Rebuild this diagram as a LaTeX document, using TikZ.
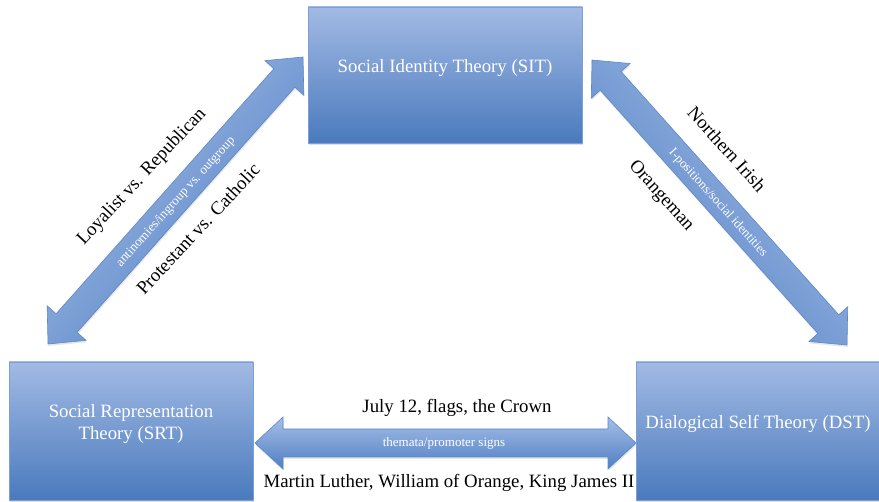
\documentclass[tikz,border=0pt]{standalone}
\usepackage{fontspec}
\setmainfont{Liberation Serif}
\usetikzlibrary{calc, shadows}

\begin{document}
\begin{tikzpicture}[
    x=1pt, y=-1pt,
    every node/.style={font=\fontsize{18.8}{22}\selectfont},
]

% ---------------------------------------------------------------- colours
\definecolor{boxtop}{HTML}{A2BAE4}      % the theory boxes, light end
\definecolor{boxbottom}{HTML}{4A7ABD}   % the theory boxes, dark end
\definecolor{boxline}{HTML}{7D9ED6}
\definecolor{arrowlight}{HTML}{A6BEE7}
\definecolor{arrowdark}{HTML}{4F7FC3}
\definecolor{arrowline}{HTML}{5B87C9}

% ---------------------------------------------------------------- styles
\tikzset{
    theory/.style={rectangle, draw=boxline, line width=0.8pt,
                   top color=boxtop, bottom color=boxbottom, text=white,
                   align=center, text depth=18pt,
                   drop shadow={shadow xshift=0.5pt, shadow yshift=-2pt,
                                opacity=0.25}},
    % a fat double-headed arrow, built as one closed outline
    fatarrow/.style={draw=arrowline, line width=0.6pt,
        top color=arrowlight, bottom color=arrowdark,
        drop shadow={shadow xshift=0.5pt, shadow yshift=-2pt, opacity=0.2},
        to path={
            -- ($(\tikztostart)!28pt!(\tikztotarget)!26pt!90:(\tikztotarget)$)
            -- ($(\tikztostart)!28pt!(\tikztotarget)!14pt!90:(\tikztotarget)$)
            -- ($(\tikztotarget)!28pt!(\tikztostart)!14pt!-90:(\tikztostart)$)
            -- ($(\tikztotarget)!28pt!(\tikztostart)!26pt!-90:(\tikztostart)$)
            -- (\tikztotarget)
            -- ($(\tikztotarget)!28pt!(\tikztostart)!26pt!90:(\tikztostart)$)
            -- ($(\tikztotarget)!28pt!(\tikztostart)!14pt!90:(\tikztostart)$)
            -- ($(\tikztostart)!28pt!(\tikztotarget)!14pt!-90:(\tikztotarget)$)
            -- ($(\tikztostart)!28pt!(\tikztotarget)!26pt!-90:(\tikztotarget)$)
            -- cycle}},
    linklabel/.style={text=black},
    innerlabel/.style={text=white, font=\fontsize{13}{15}\selectfont},
}

\useasboundingbox (0,0) rectangle (879,502);

% ================================================================
% Coordinates are in pixels of the 879 x 502 page, y running down.
% ================================================================

% ---------------------------------------------------------------- boxes
\node[theory, minimum width=274pt, minimum height=136pt] (sit) at (445,75)
    {Social Identity Theory (SIT)};
\node[theory, minimum width=244pt, minimum height=138pt] (srt) at (131,431)
    {Social Representation\\Theory (SRT)};
\node[theory, minimum width=244pt, minimum height=138pt] (dst) at (758,431)
    {Dialogical Self Theory (DST)};

% ---------------------------------------------------------------- arrow tips
\coordinate (srtTop)   at (48,344);
\coordinate (sitLeft)  at (303,57);
\coordinate (sitRight) at (592,60);
\coordinate (dstTop)   at (847,345);
\coordinate (srtRight) at (255,443);
\coordinate (dstLeft)  at (636,443);

% ---------------------------------------------------------------- arrows
\shadedraw[fatarrow, shading angle=48]  (srtTop) to (sitLeft);
\shadedraw[fatarrow, shading angle=-48] (sitRight) to (dstTop);
\shadedraw[fatarrow]                    (srtRight) to (dstLeft);

% SRT -- SIT
\node[linklabel, rotate=47] (loyal) at (142,177) {Loyalist vs. Republican};
\node[innerlabel, rotate=48] (antinomy) at (176,202)
    {antinomies/ingroup vs. outgroup};
\node[linklabel, rotate=47] (protest) at (198,229) {Protestant vs. Catholic};

% SIT -- DST
\node[linklabel, rotate=-48] (irish) at (727,149) {Northern Irish};
\node[innerlabel, rotate=-48] (ipos) at (718,203)
    {I-positions/social identities};
\node[linklabel, rotate=-48] (orange) at (661,196) {Orangeman};

% SRT -- DST
\node[linklabel] (july) at (457,408) {July 12, flags, the Crown};
\node[innerlabel] (themata) at (444,443) {themata/promoter signs};
\node[linklabel] (luther) at (449,483)
    {Martin Luther, William of Orange, King James II};

\end{tikzpicture}
\end{document}
